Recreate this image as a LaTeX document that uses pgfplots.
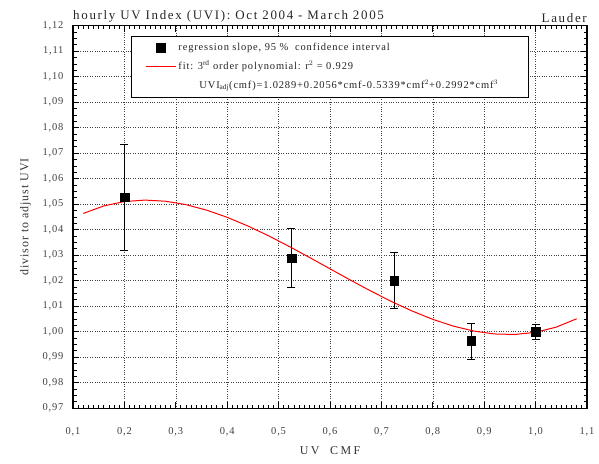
\documentclass[border=0pt]{standalone}
\usepackage{fontspec}
\setmainfont{Liberation Serif}[LetterSpace=8]
\newfontfamily\titlefont{Liberation Serif}[LetterSpace=13]
\newfontfamily\xlabelfont{Liberation Serif}[LetterSpace=20]
\usepackage{pgfplots}
\pgfplotsset{compat=1.18}

% regression slopes with 95 % confidence limits
\pgfplotstableread{
x      y       ep      em
0.200  1.0528  0.0207  0.0211
0.525  1.0289  0.0114  0.0114
0.725  1.0201  0.0108  0.0108
0.875  0.9965  0.0069  0.0072
1.000  1.0000  0.0030  0.0032
}\slopes

% third order polynomial fit, sampled along the CMF range
\pgfplotstableread{
x     y
0.12  1.04640
0.16  1.04935
0.20  1.05106
0.24  1.05163
0.28  1.05118
0.32  1.04983
0.36  1.04768
0.40  1.04487
0.44  1.04149
0.48  1.03767
0.52  1.03352
0.56  1.02915
0.60  1.02468
0.64  1.02023
0.68  1.01591
0.72  1.01183
0.76  1.00812
0.80  1.00487
0.84  1.00222
0.88  1.00027
0.92  0.99914
0.96  0.99895
1.00  0.99980
1.04  1.00182
1.08  1.00511
}\fit

\begin{document}
\begin{tikzpicture}
\useasboundingbox (0,0) rectangle (599bp,464bp);
\begin{axis}[
  at={(73bp,55.7bp)}, anchor=south west,
  scale only axis, width=514bp, height=382.6bp,
  xmin=0.1, xmax=1.1, ymin=0.97, ymax=1.12,
  xtick={0.1,0.2,0.3,0.4,0.5,0.6,0.7,0.8,0.9,1.0,1.1},
  ytick={0.97,0.98,0.99,1.00,1.01,1.02,1.03,1.04,1.05,1.06,1.07,1.08,1.09,1.10,1.11,1.12},
  minor x tick num=9, minor y tick num=3,
  tick align=inside,
  major tick length=6bp, minor tick length=3.5bp,
  every tick/.style={black, line width=0.9pt},
  axis line style={line width=1.2pt},
  grid=major,
  major grid style={dotted, black!75, line width=0.6pt},
  /pgf/number format/assume math mode=true,
  /pgf/number format/use comma,
  x tick label style={/pgf/number format/fixed, /pgf/number format/fixed zerofill, /pgf/number format/precision=1, yshift=-16bp},
  y tick label style={/pgf/number format/fixed, /pgf/number format/fixed zerofill, /pgf/number format/precision=2, xshift=-6bp},
  tick label style={font=\fontsize{10.5}{12}\selectfont, text=black!75},
  xlabel={\xlabelfont UV\ \ CMF},
  ylabel={divisor to adjust UVI},
  label style={font=\fontsize{12}{14}\selectfont, text=black!80},
  xlabel style={yshift=-3bp},
  ylabel style={yshift=5bp},
  legend style={at={(0.113,0.974)}, anchor=north west, draw=black,
    line width=0.8pt, font=\fontsize{10.5}{12}\selectfont,
    inner xsep=14bp, inner ysep=5.5bp, row sep=4.5bp,
    cells={anchor=west}, text=black!85},
  legend image code/.code={%
    \draw[mark repeat=2, mark phase=2, #1] plot coordinates {(0bp,0bp) (15bp,0bp) (30bp,0bp)};},
  clip=false,
]
\addplot[forget plot, only marks, mark=square*, mark size=4.3bp, black,
  error bars/.cd, y dir=both, y explicit,
  error bar style={line width=1pt, black},
  error mark options={rotate=90, mark size=4bp, line width=1pt}]
  table[x=x, y=y, y error plus=ep, y error minus=em] {\slopes};
\addplot[forget plot, red, line width=1pt] table[x=x, y=y] {\fit};

\addlegendimage{only marks, mark=square*, mark size=4.3bp, black}
\addlegendentry{regression slope, 95 \%\ \ confidence interval}
\addlegendimage{red, line width=1pt}
\addlegendentry{fit: 3$^{\mathrm{rd}}$ order polynomial: r$^2$ = 0.929}
\addlegendimage{empty legend}
\addlegendentry{\hspace{21bp}UVI$_{\mathrm{adj}}$(cmf)=1.0289+0.2056*cmf-0.5339*cmf$^{2}$+0.2992*cmf$^{3}$\rule{14bp}{0pt}}

\node[anchor=south west, inner sep=0pt, font=\titlefont\fontsize{13}{15}\selectfont, text=black!85]
  at (rel axis cs:0,1) [yshift=3bp] {hourly UV Index (UVI): Oct 2004 - March 2005};
\node[anchor=south east, inner sep=0pt, font=\titlefont\fontsize{13}{15}\selectfont, text=black!85]
  at (rel axis cs:1,1) [yshift=3bp] {Lauder};
\end{axis}
\end{tikzpicture}
\end{document}
